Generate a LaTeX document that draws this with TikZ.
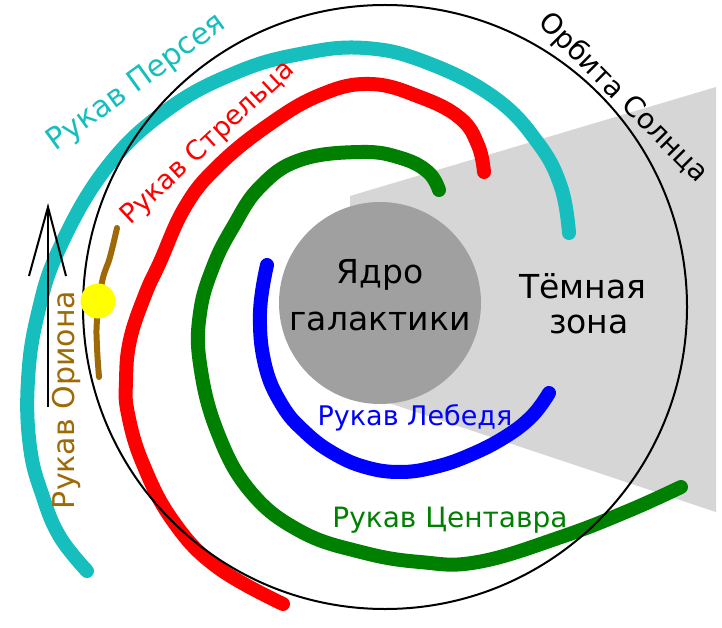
\documentclass[tikz,border=0pt]{standalone}
\usepackage{fontspec}
\setmainfont{DejaVu Sans}
\definecolor{perseus}{RGB}{22,190,190}
\definecolor{sagred}{RGB}{255,0,0}
\definecolor{cengreen}{RGB}{0,128,0}
\definecolor{cygblue}{RGB}{0,0,255}
\definecolor{orbrown}{RGB}{158,106,8}
\definecolor{sunyellow}{RGB}{255,255,0}
\definecolor{shadegray}{RGB}{214,214,214}
\definecolor{coregray}{RGB}{160,160,160}
\tikzset{
  arm/.style={line width=14pt, line cap=round, line join=round},
  armlabel/.style={font=\fontsize{27}{30}\selectfont, inner sep=0pt},
  biglabel/.style={font=\fontsize{33}{40}\selectfont, inner sep=0pt, align=center},
  thinline/.style={line width=2pt, black},
}
\begin{document}
\begin{tikzpicture}[x=1pt,y=-1pt]
\useasboundingbox (0,0) rectangle (722,628);
% dark zone
\fill[shadegray] (350,196) -- (716,87) -- (716,512) -- (350,390) -- cycle;
% core
\fill[coregray] (380,303) circle (101);
% arms
\draw[arm, perseus] plot[smooth, tension=0.7] coordinates {(87,571) (60,537) (43,497) (30,447) (28,380) (38,313) (60,247) (107,167) (167,110) (235,73) (300,54) (365,48) (428,63) (495,98) (538,143) (561,187) (569,233)};
\draw[arm, sagred] plot[smooth, tension=0.7] coordinates {(283,604) (217,567) (173,521) (143,464) (128,414) (126,381) (130,340) (145,295) (160,262) (185,207) (217,167) (267,126) (320,95) (370,84) (420,97) (460,118) (478,145) (484,172)};
\draw[arm, cengreen] plot[smooth, tension=0.7] coordinates {(439,190) (428,172) (401,158) (361,152) (300,160) (260,187) (233,227) (213,267) (200,313) (200,364) (217,431) (250,491) (300,531) (361,552) (420,562) (478,562) (561,537) (628,511) (681,487)};
\draw[arm, cygblue] plot[smooth, tension=0.7] coordinates {(267,265) (260,313) (265,365) (282,405) (305,432) (333,453) (365,467) (400,472) (435,467) (470,455) (505,437) (532,416) (549,393)};
\draw[line width=6pt, line cap=round, orbrown] plot[smooth, tension=0.7] coordinates {(117,228) (110,257) (102,282) (97,320) (97,347) (99,377)};
% orbit of the Sun
\draw[thinline] (385,307) circle (302);
% Sun
\fill[sunyellow] (98,301) circle (17.5);
% direction arrow
\coordinate (abot) at (48,407);
\coordinate (atip) at (48,207);
\coordinate (wl) at (29,276);
\coordinate (wr) at (66,276);
\draw[thinline] (abot) -- (atip);
\draw[thinline] (wl) -- (atip) -- (wr);
% labels
\node[armlabel, perseus, rotate=36, font=\fontsize{30}{32}\selectfont] (lper) at (137,83) {Рукав Персея};
\node[armlabel, sagred, rotate=43] (lsag) at (208,143) {Рукав Стрельца};
\node[armlabel, orbrown, rotate=90, font=\fontsize{30}{32}\selectfont] (lori) at (66,400) {Рукав Ориона};
\node[armlabel, black, rotate=-45, font=\fontsize{28}{30}\selectfont] (lorb) at (623,98) {Орбита Солнца};
\node[armlabel, cygblue, anchor=base] (lcyg) at (415,425) {Рукав Лебедя};
\node[armlabel, cengreen, anchor=base, font=\fontsize{28}{30}\selectfont] (lcen) at (450,527) {Рукав Центавра};
\node[biglabel, anchor=base] (core1) at (380,283) {Ядро};
\node[biglabel, anchor=base] (core2) at (380,330) {галактики};
\node[biglabel, anchor=base] (dark1) at (583,298) {Тёмная};
\node[biglabel, anchor=base] (dark2) at (589,333) {зона};
\end{tikzpicture}
\end{document}
